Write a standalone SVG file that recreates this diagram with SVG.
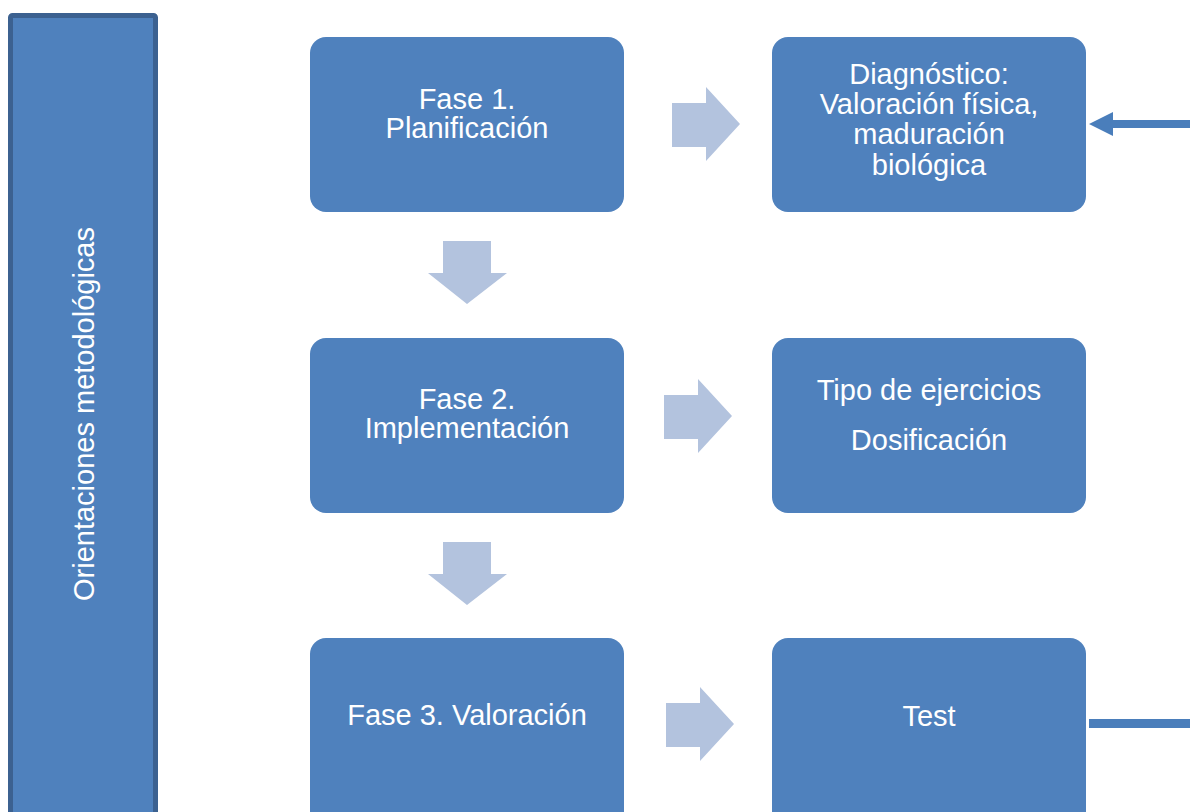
<svg xmlns="http://www.w3.org/2000/svg" width="1190" height="812" viewBox="0 0 1190 812">
<style>
.box{fill:#4f81bd;}
.t{fill:#fff;font-family:"Liberation Sans",Arial,sans-serif;font-size:29px;text-anchor:middle;}
.ar{fill:#b3c3de;}
</style>
<rect width="1190" height="812" fill="#fff"/>
<g id="side">
<rect x="10.5" y="15.5" width="145" height="810" rx="2" fill="#4f81bd" stroke="#3c6190" stroke-width="5"/>
<text class="t" transform="translate(94,414) rotate(-90)">Orientaciones metodológicas</text>
</g>
<g id="fase1"><rect class="box" x="310" y="37" width="314" height="175" rx="16"/>
<text class="t" x="467" y="109">Fase 1.</text><text class="t" x="467" y="138">Planificación</text></g>
<g id="diag"><rect class="box" x="772" y="37" width="314" height="175" rx="16"/>
<text class="t" x="929" y="84">Diagnóstico:</text><text class="t" x="929" y="114">Valoración física,</text><text class="t" x="929" y="144">maduración</text><text class="t" x="929" y="175">biológica</text></g>
<g id="fase2"><rect class="box" x="310" y="338" width="314" height="175" rx="16"/>
<text class="t" x="467" y="409">Fase 2.</text><text class="t" x="467" y="438">Implementación</text></g>
<g id="tipo"><rect class="box" x="772" y="338" width="314" height="175" rx="16"/>
<text class="t" x="929" y="400">Tipo de ejercicios</text><text class="t" x="929" y="450">Dosificación</text></g>
<g id="fase3"><rect class="box" x="310" y="638" width="314" height="190" rx="16"/>
<text class="t" x="467" y="725">Fase 3. Valoración</text></g>
<g id="test"><rect class="box" x="772" y="638" width="314" height="190" rx="16"/>
<text class="t" x="929" y="726">Test</text></g>
<g id="connectors">
<polygon class="ar" points="672,103 706,103 706,87 740,124 706,161 706,147 672,147"/>
<polygon class="ar" points="664,395 698,395 698,379 732,416 698,453 698,439 664,439"/>
<polygon class="ar" points="666,703 700,703 700,687 734,724 700,761 700,747 666,747"/>
<polygon class="ar" points="443,241 491,241 491,273 507,273 467,304 428,273 443,273"/>
<polygon class="ar" points="443,542 491,542 491,574 507,574 467,605 428,574 443,574"/>
<polygon fill="#4a7ebb" points="1190,120 1113,120 1113,112 1089,124 1113,136 1113,128 1190,128"/>
<rect x="1089" y="719" width="101" height="9" fill="#4a7ebb"/>
</g>
</svg>
